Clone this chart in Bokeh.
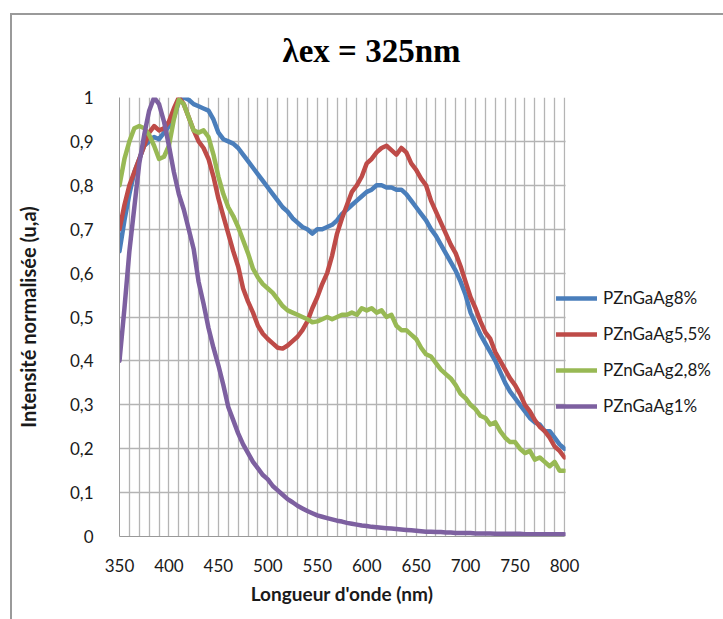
from bokeh.plotting import figure
from bokeh.models import (FixedTicker, CustomJSTickFormatter, Legend, LegendItem,
                          Label, BoxAnnotation)
from bokeh.embed import file_html
from bokeh.resources import INLINE

# Emission spectra (normalised intensity) for lambda_ex = 325 nm
wavelength = list(range(350, 801, 5))

pzngaag8 = [
    0.65, 0.72, 0.78, 0.83, 0.86, 0.89, 0.90, 0.91, 0.905, 0.92,
    0.935, 0.955, 0.99, 1.00, 0.995, 0.985, 0.98, 0.975, 0.97, 0.95,
    0.92, 0.905, 0.90, 0.895, 0.885, 0.87, 0.855, 0.84, 0.825, 0.81,
    0.795, 0.78, 0.765, 0.75, 0.74, 0.725, 0.715, 0.705, 0.70, 0.69,
    0.70, 0.70, 0.705, 0.71, 0.72, 0.735, 0.745, 0.755, 0.765, 0.775,
    0.785, 0.79, 0.80, 0.80, 0.795, 0.795, 0.79, 0.79, 0.78, 0.765,
    0.75, 0.735, 0.72, 0.70, 0.685, 0.665, 0.645, 0.625, 0.605, 0.58,
    0.55, 0.51, 0.485, 0.46, 0.44, 0.42, 0.40, 0.375, 0.35, 0.33,
    0.315, 0.30, 0.285, 0.27, 0.26, 0.255, 0.24, 0.24, 0.225, 0.21,
    0.20,
]

pzngaag5_5 = [
    0.70, 0.755, 0.80, 0.83, 0.86, 0.89, 0.92, 0.935, 0.925, 0.93,
    0.945, 0.975, 1.00, 0.985, 0.955, 0.925, 0.90, 0.885, 0.86, 0.82,
    0.77, 0.73, 0.69, 0.65, 0.615, 0.565, 0.535, 0.51, 0.48, 0.462,
    0.45, 0.44, 0.43, 0.428, 0.435, 0.445, 0.455, 0.47, 0.49, 0.52,
    0.545, 0.575, 0.60, 0.64, 0.69, 0.725, 0.755, 0.785, 0.80, 0.82,
    0.85, 0.86, 0.875, 0.885, 0.89, 0.88, 0.87, 0.885, 0.875, 0.85,
    0.835, 0.815, 0.80, 0.765, 0.74, 0.715, 0.69, 0.665, 0.645, 0.615,
    0.58, 0.545, 0.52, 0.49, 0.465, 0.45, 0.42, 0.40, 0.38, 0.36,
    0.345, 0.325, 0.30, 0.285, 0.265, 0.25, 0.24, 0.225, 0.205, 0.195,
    0.18,
]

pzngaag2_8 = [
    0.80, 0.86, 0.90, 0.93, 0.935, 0.93, 0.915, 0.89, 0.86, 0.865,
    0.89, 0.95, 0.995, 0.985, 0.955, 0.925, 0.92, 0.925, 0.91, 0.87,
    0.82, 0.78, 0.75, 0.73, 0.705, 0.675, 0.645, 0.61, 0.59, 0.575,
    0.565, 0.555, 0.54, 0.525, 0.515, 0.51, 0.505, 0.50, 0.495, 0.488,
    0.49, 0.495, 0.50, 0.495, 0.50, 0.505, 0.505, 0.51, 0.505, 0.52,
    0.515, 0.52, 0.51, 0.515, 0.50, 0.505, 0.48, 0.47, 0.47, 0.46,
    0.45, 0.43, 0.415, 0.41, 0.395, 0.38, 0.37, 0.36, 0.345, 0.325,
    0.315, 0.30, 0.29, 0.275, 0.27, 0.255, 0.26, 0.24, 0.225, 0.215,
    0.215, 0.20, 0.19, 0.195, 0.175, 0.18, 0.17, 0.16, 0.17, 0.15,
    0.15,
]

pzngaag1 = [
    0.40, 0.52, 0.65, 0.75, 0.85, 0.915, 0.97, 1.00, 0.985, 0.945,
    0.89, 0.83, 0.78, 0.745, 0.70, 0.655, 0.58, 0.53, 0.475, 0.43,
    0.39, 0.345, 0.295, 0.265, 0.235, 0.21, 0.19, 0.17, 0.155, 0.14,
    0.13, 0.115, 0.105, 0.095, 0.085, 0.078, 0.07, 0.064, 0.058, 0.053,
    0.048, 0.045, 0.042, 0.039, 0.036, 0.034, 0.031, 0.029, 0.027, 0.025,
    0.024, 0.022, 0.021, 0.02, 0.019, 0.018, 0.017, 0.016, 0.015, 0.014,
    0.013, 0.012, 0.011, 0.011, 0.010, 0.010, 0.009, 0.009, 0.008, 0.008,
    0.008, 0.008, 0.007, 0.007, 0.007, 0.007, 0.006, 0.006, 0.006, 0.006,
    0.006, 0.006, 0.005, 0.005, 0.005, 0.005, 0.005, 0.005, 0.005, 0.005,
    0.005,
]

series_names = ["PZnGaAg8%", "PZnGaAg5,5%", "PZnGaAg2,8%", "PZnGaAg1%"]
series_values = [pzngaag8, pzngaag5_5, pzngaag2_8, pzngaag1]
series_colors = ["#4A7EBB", "#BE4B48", "#98B954", "#7D60A0"]

x_ticks = [350, 400, 450, 500, 550, 600, 650, 700, 750, 800]
y_ticks = [0, 0.1, 0.2, 0.3, 0.4, 0.5, 0.6, 0.7, 0.8, 0.9, 1.0]

# page geometry (pixels): plot area 119..564 x 97..536, legend to its right
PX_L, PX_R, PX_T, PX_B, PAGE_W = 119, 564, 97, 536, 723
nm_per_px = (800 - 350) / (PX_R - PX_L)
val_per_px = 1.0 / (PX_B - PX_T)
x_end = 800 + (PAGE_W - PX_R) * nm_per_px        # frame runs on under the legend


def xd(px):
    return 350 + (px - PX_L) * nm_per_px


def yd(py):
    return (PX_B - py) * val_per_px


p = figure(width=PAGE_W, height=619, x_range=(350, x_end), y_range=(0, 1),
           output_backend="svg", toolbar_location=None,
           min_border_left=PX_L, min_border_right=0,
           min_border_top=PX_T, min_border_bottom=619 - PX_B)
p.background_fill_color = "white"
p.border_fill_color = None
p.outline_line_color = None
# thin grey chart-area border along the left and top edges
p.styles = {"box-shadow": "inset 10px 13px 0 0 #FFFFFF, inset 12px 15px 0 0 #9A9A9A"}

grid_color = "#B4B4B4"
p.xgrid.ticker = FixedTicker(ticks=list(range(350, 801, 10)))
p.xgrid.grid_line_color = grid_color
p.xgrid.grid_line_width = 1.3
p.ygrid.grid_line_color = grid_color
p.ygrid.grid_line_width = 1.3

lbl_font = "Lato"
p.xaxis.ticker = FixedTicker(ticks=x_ticks)
p.xaxis.bounds = (350, 800)
p.yaxis.ticker = FixedTicker(ticks=y_ticks)
p.yaxis.formatter = CustomJSTickFormatter(code="""
    const s = tick.toFixed(1);
    return s.endsWith('.0') ? s.slice(0, -2) : s.replace('.', ',');
""")
for ax in (p.xaxis[0], p.yaxis[0]):
    ax.axis_line_color = "#9A9A9A"
    ax.major_tick_line_color = None
    ax.minor_tick_line_color = None
    ax.major_label_text_font = lbl_font
    ax.major_label_text_font_size = "17px"
    ax.major_label_text_color = "#1A1A1A"
    ax.axis_label_text_font = lbl_font
    ax.axis_label_text_font_style = "bold"
    ax.axis_label_text_color = "#1A1A1A"
p.xaxis.major_label_standoff = 16
p.yaxis.major_label_standoff = 20
p.yaxis.axis_label = "Intensité normalisée (u,a)"
p.yaxis.axis_label_text_font_size = "20px"
p.yaxis.axis_label_standoff = 27

renderers = []
for name, vals, col in zip(series_names, series_values, series_colors):
    r = p.line(wavelength, vals, line_color=col, line_width=4.5,
               line_join="round", line_cap="round")
    renderers.append(r)

# blank out the horizontal grid to the right of 800 nm (legend area)
p.add_layout(BoxAnnotation(left=xd(PX_R + 1.1), fill_color="white", fill_alpha=1,
                           line_color=None))

legend = Legend(items=[LegendItem(label=n, renderers=[r])
                       for n, r in zip(series_names, renderers)],
                location=(437, 120), orientation="vertical", ncols=1,
                glyph_width=41, glyph_height=20, label_height=20,
                label_standoff=6, spacing=15, padding=0, margin=0,
                label_text_font=lbl_font, label_text_font_size="17px",
                label_text_color="#1A1A1A",
                border_line_color=None, background_fill_alpha=0)
p.add_layout(legend, "center")

# chart title above the plot area
p.add_layout(Label(x=xd(282), y=yd(50), x_units="data", y_units="data",
                   text="λex = 325nm", text_font="Liberation Serif",
                   text_font_style="bold", text_font_size="33px",
                   text_align="left", text_baseline="alphabetic",
                   text_color="black"), "above")

# x-axis title centred under 350-800 nm
p.add_layout(Label(x=575, y=yd(593), x_units="data", y_units="data",
                   text="Longueur d'onde (nm)", text_font=lbl_font,
                   text_font_style="bold", text_font_size="19px",
                   text_align="center", text_baseline="alphabetic",
                   text_color="#1A1A1A"), "below")

open("out.html", "w").write(file_html(p, INLINE))
